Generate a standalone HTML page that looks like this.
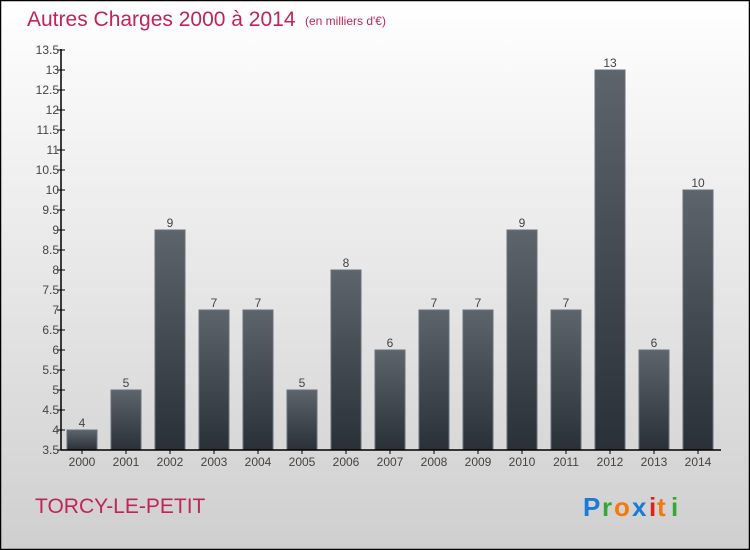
<!DOCTYPE html>
<html><head><meta charset="utf-8"><style>body{margin:0}svg{display:block}</style></head><body>
<svg width="750" height="550" xmlns="http://www.w3.org/2000/svg" font-family="Liberation Sans, sans-serif">
<defs>
<linearGradient id="bg" x1="0" y1="0" x2="0" y2="1"><stop offset="0" stop-color="#ffffff"/><stop offset="1" stop-color="#cfcfcf"/></linearGradient>
<linearGradient id="bar" x1="0" y1="0" x2="0" y2="1"><stop offset="0" stop-color="#5d646c"/><stop offset="1" stop-color="#2a3038"/></linearGradient>
</defs>
<rect x="0.5" y="0.5" width="749" height="549" fill="url(#bg)" stroke="#000" stroke-width="1.5"/>
<text x="27" y="26" font-size="21" fill="#c0245a">Autres Charges 2000 à 2014</text>
<text x="305" y="25" font-size="12" fill="#c0245a">(en milliers d'€)</text>
<g id="bars"></g>
<line x1="61" y1="49" x2="61" y2="450" stroke="#000" stroke-width="1.5"/>
<line x1="61" y1="450" x2="721" y2="450" stroke="#000" stroke-width="1.5"/>
<g font-size="12" fill="#444" text-anchor="end" id="yt"></g>
<g font-size="12" fill="#444" text-anchor="middle" id="xt"></g>
<text x="35" y="513" font-size="21" fill="#c0245a">TORCY-LE-PETIT</text>
<g font-size="26" font-weight="bold" font-family="Liberation Sans, sans-serif">
<text x="583" y="516" fill="#1a7ad4">P</text><text x="602" y="516" fill="#3aa635">r</text><text x="614" y="516" fill="#f07a10">o</text><text x="632" y="516" fill="#1a7ad4">x</text><text x="649" y="516" fill="#e02020">i</text><text x="657" y="516" fill="#f07a10">t</text><text x="671" y="516" fill="#3aa635">i</text>
</g>
<script>
var ns="http://www.w3.org/2000/svg";
function el(p,t,a,txt){var e=document.createElementNS(ns,t);for(var k in a)e.setAttribute(k,a[k]);if(txt!==undefined)e.textContent=txt;p.appendChild(e);return e;}
var yt=document.getElementById('yt');
for(var v=3.5;v<=13.51;v+=0.5){var y=450-(v-3.5)*40;el(yt,'line',{x1:57,x2:65,y1:y,y2:y,stroke:'#000','stroke-width':1});el(yt,'text',{x:59,y:y+4},String(v));}
var d=[4,5,9,7,7,5,8,6,7,7,9,7,13,6,10];
var b=document.getElementById('bars'),xt=document.getElementById('xt');
d.forEach(function(v,i){var cx=82+i*44,y=450-(v-3.5)*40;
el(b,'rect',{x:cx-15,y:y,width:30,height:450-y,fill:'url(#bar)',stroke:'#6a7078','stroke-width':1});
el(b,'text',{x:cx,y:y-3,'font-size':12,fill:'#444','text-anchor':'middle'},String(v));
el(xt,'line',{x1:cx,x2:cx,y1:450,y2:454,stroke:'#000'});
el(xt,'text',{x:cx,y:466},String(2000+i));});
</script>
</svg>
</body></html>
